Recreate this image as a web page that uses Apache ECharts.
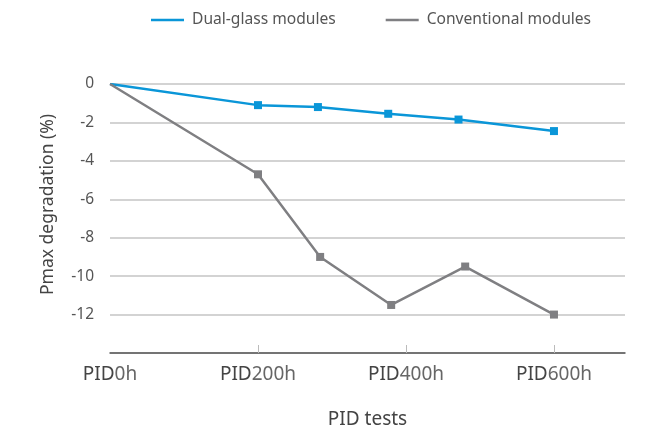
<!DOCTYPE html>
<html><head><meta charset="utf-8">
<script src="https://cdn.jsdelivr.net/npm/echarts@6/dist/echarts.min.js"></script>
<style>html,body{margin:0;padding:0;background:#fff}#c{width:647px;height:436px}</style>
</head><body><div id="c"></div>
<script>
const hoursDual = [0, 200, 281, 376, 471, 600];
const valuesDual = [0, -1.1, -1.2, -1.55, -1.85, -2.45];
const hoursConv = [0, 200, 284, 380, 480, 600];
const valuesConv = [0, -4.7, -9.0, -11.5, -9.5, -12.0];
const tickHours = [0, 200, 400, 600];
const tickLabels = ['0h', '200h', '400h', '600h'];
const seriesNames = ['Dual-glass modules', 'Conventional modules'];

function pts(xs, ys) {
  return xs.map((x, i) => i === 0 ? { value: [x, ys[i]], symbol: 'none' } : [x, ys[i]]);
}
const font = 'Noto Sans';
const chart = echarts.init(document.getElementById('c'));
chart.setOption({
  animation: false,
  textStyle: { fontFamily: font },
  legend: {
    top: 7, left: 146, itemGap: 50,
    icon: 'rect', itemWidth: 33, itemHeight: 2.5,
    textStyle: { fontFamily: font, fontSize: 15.6, color: '#555', padding: [0, 0, 0, 3] },
    data: seriesNames
  },
  grid: { left: 110, right: 22, top: 84, bottom: 83, containLabel: false },
  xAxis: {
    type: 'value', min: 0, max: 696,
    name: 'PID tests', nameLocation: 'middle', nameGap: 57,
    nameTextStyle: { fontFamily: font, fontSize: 19, color: '#444' },
    axisLine: { show: true, onZero: false, lineStyle: { color: '#555', width: 1.5 } },
    axisTick: { show: true, inside: true, length: 8, customValues: tickHours.slice(1), lineStyle: { color: '#bbb', width: 1 } },
    splitLine: { show: false },
    axisLabel: {
      customValues: tickHours, margin: 12,
      formatter: v => '{p|PID}{n|' + tickLabels[tickHours.indexOf(v)] + '}',
      rich: {
        p: { fontFamily: font, fontSize: 19, color: '#444' },
        n: { fontFamily: font, fontSize: 19, color: '#666' }
      }
    }
  },
  yAxis: {
    type: 'value', min: -14, max: 0, interval: 2,
    name: 'Pmax degradation (%)', nameLocation: 'middle', nameGap: 53,
    nameTextStyle: { fontFamily: font, fontSize: 17.5, color: '#444', padding: [0, 0, 0, 28] },
    axisLine: { show: false }, axisTick: { show: false },
    axisLabel: { showMinLabel: false, margin: 16, fontFamily: font, fontSize: 15.5, color: '#555' },
    splitLine: { lineStyle: { color: '#c4c4c4', width: 1.5 } }
  },
  series: [
    { name: seriesNames[0], type: 'line', data: pts(hoursDual, valuesDual),
      symbol: 'rect', symbolSize: 8, color: '#0a96d8',
      lineStyle: { width: 2.5, color: '#0a96d8' }, itemStyle: { color: '#0a96d8' } },
    { name: seriesNames[1], type: 'line', data: pts(hoursConv, valuesConv),
      symbol: 'rect', symbolSize: 8, color: '#7f7f82',
      lineStyle: { width: 2.5, color: '#7f7f82' }, itemStyle: { color: '#7f7f82' } }
  ]
});
</script></body></html>
